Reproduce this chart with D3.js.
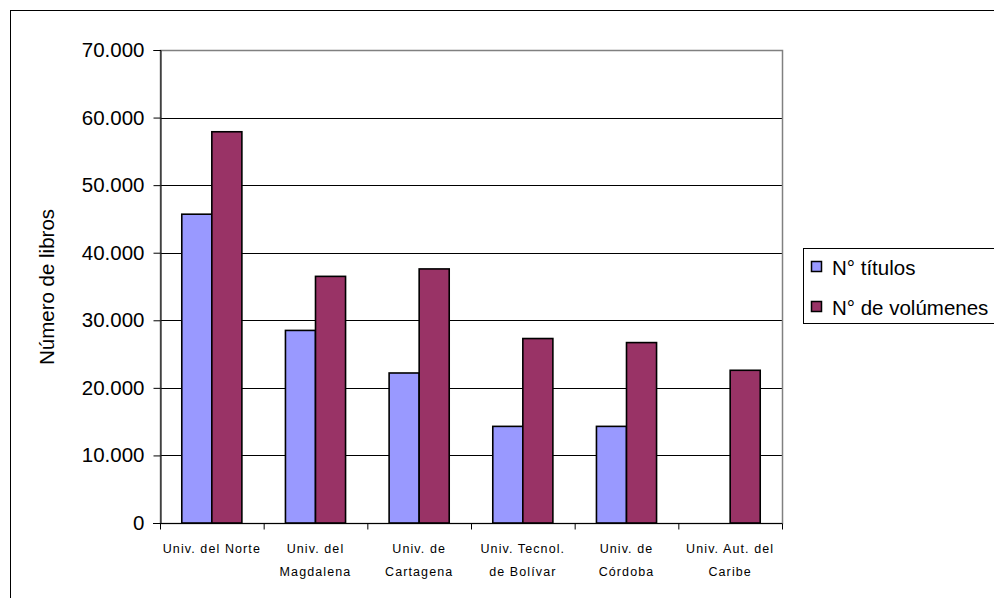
<!DOCTYPE html>
<html>
<head>
<meta charset="utf-8">
<script src="https://cdn.jsdelivr.net/npm/d3@7"></script>
<style>
  html, body { margin: 0; padding: 0; background: #fff; }
  svg { display: block; font-family: "Liberation Sans", Arial, sans-serif; }
</style>
</head>
<body>
<svg id="chart" width="994" height="598"></svg>
<script>
const categories = [
  ["Univ. del Norte"],
  ["Univ. del", "Magdalena"],
  ["Univ. de", "Cartagena"],
  ["Univ. Tecnol.", "de Bolívar"],
  ["Univ. de", "Córdoba"],
  ["Univ. Aut. del", "Caribe"]
];
const seriesNames = ["N° títulos", "N° de volúmenes"];
const titulos = [45700, 28500, 22200, 14300, 14300, 0];
const volumenes = [57900, 36500, 37600, 27300, 26700, 22600];
const yTicks = [0, 10000, 20000, 30000, 40000, 50000, 60000, 70000];
const colors = ["#9999FF", "#993366"];

const svg = d3.select("#chart");
const pL = 160, pR = 782, pT = 50, pB = 523;
const bigFont = 20.5;

// outer frame
svg.append("rect").attr("x", 10.5).attr("y", 10.5).attr("width", 1000).attr("height", 1000)
  .attr("fill", "#fff").attr("stroke", "#000").attr("stroke-width", 1);

const x0 = d3.scaleBand().domain(d3.range(categories.length)).range([pL, pR]).paddingInner(0).paddingOuter(0);
const groupW = x0.bandwidth() * 2 / 3.45;
const x1 = d3.scaleBand().domain([0, 1]).range([0, groupW]);
const y = d3.scaleLinear().domain([0, 70000]).range([pB, pT]);

const fmt = v => v === 0 ? "0" : d3.format(",")(v).replace(/,/g, ".");

// gridlines
svg.append("g").selectAll("line").data(yTicks.filter(d => d > 0 && d < 70000)).join("line")
  .attr("x1", pL).attr("x2", pR)
  .attr("y1", d => Math.round(y(d)) + 0.5).attr("y2", d => Math.round(y(d)) + 0.5)
  .attr("stroke", "#000").attr("stroke-width", 1);

// plot area border (gray)
svg.append("rect").attr("x", pL + 0.5).attr("y", Math.round(y(70000)) + 0.5)
  .attr("width", pR - pL).attr("height", Math.round(y(0)) - Math.round(y(70000)))
  .attr("fill", "none").attr("stroke", "#808080").attr("stroke-width", 1.5);

// bars
const data = categories.map((c, i) => [titulos[i], volumenes[i]]);
const groups = svg.append("g").selectAll("g").data(data).join("g")
  .attr("transform", (d, i) => `translate(${x0(i) + (x0.bandwidth() - groupW) / 2},0)`);
groups.selectAll("rect").data(d => d.map((v, j) => ({v, j})).filter(o => o.v > 0)).join("rect")
  .attr("x", d => x1(d.j))
  .attr("y", d => y(d.v))
  .attr("width", x1.bandwidth())
  .attr("height", d => y(0) - y(d.v))
  .attr("fill", d => colors[d.j])
  .attr("stroke", "#000").attr("stroke-width", 1.6);

// y axis
const yAxis = d3.axisLeft(y).tickValues(yTicks).tickFormat(fmt).tickSize(7).tickPadding(9);
const ya = svg.append("g").attr("transform", `translate(${pL + 0.5},0)`).call(yAxis);
ya.select(".domain").attr("stroke", "#000").attr("stroke-width", 1);
ya.selectAll(".tick line").attr("stroke", "#000");
ya.selectAll(".tick text").attr("font-size", bigFont).attr("fill", "#000")
  .attr("font-family", "Liberation Sans, Arial, sans-serif");

// x axis
const xAxis = d3.axisBottom(d3.scaleLinear().domain([0, categories.length]).range([pL, pR]))
  .tickValues(d3.range(categories.length + 1)).tickSize(6).tickFormat("");
const xa = svg.append("g").attr("transform", `translate(0,${Math.round(y(0)) + 0.5})`).call(xAxis);
xa.select(".domain").attr("stroke", "#000").attr("stroke-width", 1).attr("d", `M${pL - 7},0H${pR}`);
xa.selectAll(".tick line").attr("stroke", "#000");

// x labels
const xl = svg.append("g");
categories.forEach((lines, i) => {
  const cx = x0(i) + x0.bandwidth() / 2;
  lines.forEach((t, k) => {
    xl.append("text").attr("x", cx).attr("y", 553 + k * 23)
      .attr("text-anchor", "middle").attr("font-size", 12.5)
      .attr("letter-spacing", "1.1px")
      .text(t);
  });
});

// y title
svg.append("text").attr("transform", "translate(54,287) rotate(-90)")
  .attr("text-anchor", "middle").attr("font-size", bigFont).text("Número de libros");

// legend
const lg = svg.append("g");
lg.append("rect").attr("x", 803.5).attr("y", 248.5).attr("width", 200).attr("height", 75)
  .attr("fill", "#fff").attr("stroke", "#000").attr("stroke-width", 1);
seriesNames.forEach((n, i) => {
  const cy = 267 + i * 40;
  lg.append("rect").attr("x", 811.5).attr("y", cy - 5.5).attr("width", 10).attr("height", 10)
    .attr("fill", colors[i]).attr("stroke", "#000").attr("stroke-width", 1.5);
  lg.append("text").attr("x", 832).attr("y", cy + 7.5).attr("font-size", bigFont).text(n);
});
</script>
</body>
</html>
